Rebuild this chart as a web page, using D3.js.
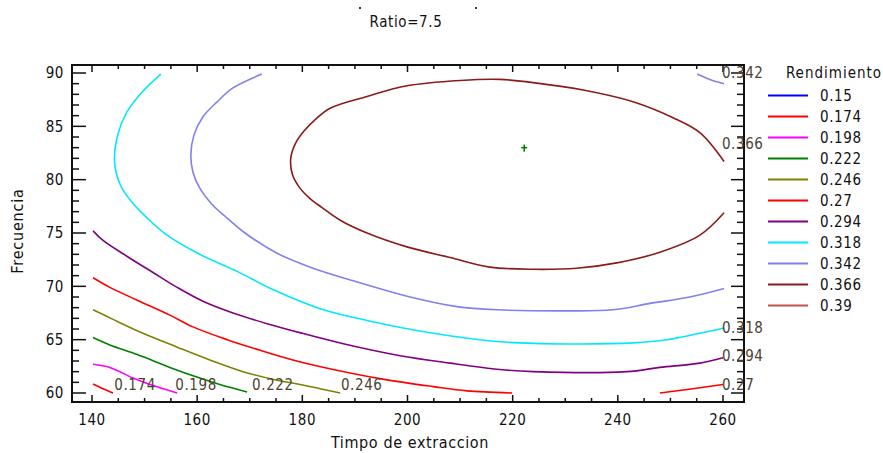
<!DOCTYPE html>
<html><head><meta charset="utf-8">
<script src="https://cdn.jsdelivr.net/npm/d3@7"></script>
<style>
body{margin:0;background:#fff}
svg{display:block}
text{font-family:'Liberation Sans Narrow','Arial Narrow','DejaVu Sans Condensed',sans-serif;fill:#111}
</style>
</head><body>
<svg id="c" width="883" height="453"></svg>
<script>
// ---------- data ----------
const title = "Ratio=7.5";
const xLabel = "Timpo de extraccion";
const yLabel = "Frecuencia";
const legendTitle = "Rendimiento";
const levels = ["0.15","0.174","0.198","0.222","0.246","0.27","0.294","0.318","0.342","0.366","0.39"];
const levelColors = ["#0000ff","#ff0000","#ff00ff","#008000","#808000","#ff0000","#800080","#00e8ff","#8080f0","#8b1a1a","#c05050"];
const xTicks = [140,160,180,200,220,240,260];
const yTicks = [60,65,70,75,80,85,90];

const c0174 = [[140.2,60.85],[142.1,60.4],[144.0,60.0]];
const c0198 = [[140.2,62.7],[143.4,62.4],[147.8,61.4],[151.0,60.8],[152.9,60.5],[156.2,60.0]];
const c0222 = [[140.2,65.2],[143.4,64.5],[148.6,63.6],[154.8,62.4],[160.5,61.4],[164.3,60.8],[169.5,60.1]];
const c0246 = [[140.2,67.8],[144.0,66.9],[149.7,65.6],[156.2,64.3],[162.4,63.1],[168.7,62.0],[175.2,61.2],[179.6,60.8],[183.4,60.4],[187.2,60.0]];
const c0270a = [[140.2,70.8],[143.4,69.9],[148.6,68.7],[154.8,67.3],[159.2,66.2],[165.7,65.0],[172.0,64.0],[178.2,63.1],[185.0,62.3],[195.3,61.3],[204.9,60.6],[211.3,60.2],[219.9,60.0]];
const c0270b = [[248.0,60.0],[254.3,60.4],[260.0,60.8]];
const c0294 = [[140.2,75.2],[142.1,74.3],[146.7,72.8],[151.6,71.3],[156.2,69.9],[161.1,68.6],[166.8,67.5],[173.3,66.5],[180.0,65.6],[188.0,64.6],[198.6,63.5],[208.1,62.8],[217.6,62.2],[223.9,62.0],[241.7,62.0],[248.0,62.4],[255.6,62.8],[260.0,63.3]];
const c0318 = [[153.1,89.9],[149.5,88.2],[146.6,86.3],[144.9,84.2],[144.3,81.6],[145.4,79.5],[147.4,78.0],[150.5,76.4],[154.0,74.9],[160.5,73.0],[167.6,71.4],[174.4,69.7],[183.4,67.9],[192.3,66.8],[204.9,65.6],[217.6,64.8],[230.3,64.6],[242.9,64.7],[249.4,65.0],[255.6,65.6],[260.2,66.1]];
const c0342a = [[172.3,89.9],[166.8,88.6],[163.8,87.3],[161.1,85.9],[159.4,84.2],[158.8,82.3],[159.2,80.7],[160.5,79.2],[162.8,77.7],[165.7,76.4],[169.1,75.0],[175.2,73.1],[181.5,71.8],[189.1,70.6],[200.5,69.0],[209.4,68.1],[217.0,67.8],[230.3,67.7],[239.1,67.8],[246.1,68.4],[253.7,69.0],[260.2,69.8]];
const c0342b = [[255.1,89.9],[257.5,89.4],[260.2,89.0]];
const c0366 = [[260.2,81.7],[255.6,84.4],[250.5,85.8],[242.9,87.3],[233.4,88.4],[223.9,89.1],[217.6,89.4],[210.0,89.3],[199.9,88.8],[192.3,87.8],[185.3,86.7],[182.6,85.7],[180.4,84.6],[178.7,83.4],[177.8,82.0],[178.1,80.5],[179.4,79.3],[181.3,78.3],[183.7,77.4],[187.2,76.2],[192.3,75.0],[199.9,73.7],[208.1,72.7],[215.7,71.8],[223.9,71.6],[232.2,71.7],[239.8,72.2],[248.0,73.2],[255.6,74.8],[260.2,76.9]];

const contourLines = [
  ["0.174", c0174], ["0.198", c0198], ["0.222", c0222], ["0.246", c0246],
  ["0.27", c0270a], ["0.27", c0270b], ["0.294", c0294], ["0.318", c0318],
  ["0.342", c0342a], ["0.342", c0342b], ["0.366", c0366]
];
// labels along the bottom: [text, x, y]
const bottomLabels = [["0.174",148.2,60.75],["0.198",159.8,60.75],["0.222",174.4,60.75],["0.246",191.3,60.75]];
// labels on the right edge: [text, x, y]
const edgeLabels = [["0.342",259.8,90.0],["0.366",259.8,83.4],["0.318",259.8,66.1],["0.294",259.8,63.5],["0.27",259.8,60.8]];
const optimum = [222.2, 83.0];

// ---------- drawing ----------
const svg = d3.select("#c");
const frame = {l:72, t:65, r:744, b:402};
const x = d3.scaleLinear().domain([140,260]).range([92,723]);
const y = d3.scaleLinear().domain([60,90]).range([393,73]);
const colorOf = d3.scaleOrdinal().domain(levels).range(levelColors);

// title
svg.append("text").attr("x",406).attr("y",27).attr("text-anchor","middle")
  .style("font-size","15px").style("letter-spacing","0.6px").text(title);
svg.append("rect").attr("x",359).attr("y",7).attr("width",2).attr("height",2).attr("fill","#335");
svg.append("rect").attr("x",475).attr("y",7).attr("width",2).attr("height",2).attr("fill","#335");

// contour lines
const line = d3.line().x(d=>x(d[0])).y(d=>y(d[1])).curve(d3.curveCatmullRom.alpha(0.5));
svg.append("g").selectAll("path").data(contourLines).join("path")
  .attr("d", d=>line(d[1]))
  .attr("fill","none")
  .attr("stroke", d=>colorOf(d[0]))
  .attr("stroke-width",1.6);

// optimum marker
const g0 = svg.append("g").attr("stroke","#008000").attr("stroke-width",1.6);
g0.append("line").attr("x1",x(optimum[0])-3).attr("x2",x(optimum[0])+3).attr("y1",y(optimum[1])).attr("y2",y(optimum[1]));
g0.append("line").attr("x1",x(optimum[0])).attr("x2",x(optimum[0])).attr("y1",y(optimum[1])-3).attr("y2",y(optimum[1])+4);

// frame
svg.append("rect").attr("x",frame.l).attr("y",frame.t).attr("width",frame.r-frame.l).attr("height",frame.b-frame.t)
  .attr("fill","none").attr("stroke","#111").attr("stroke-width",2);

// ticks (inward, all four sides)
const xMinor = d3.range(140,261,5);
const yMinor = d3.range(60,91,1);
const tk = svg.append("g").attr("stroke","#111").attr("stroke-width",1.5);
xMinor.forEach(v=>{
  const major = v%20===0;
  tk.append("line").attr("x1",x(v)).attr("x2",x(v)).attr("y1",frame.b).attr("y2",frame.b-(major?7:4));
  tk.append("line").attr("x1",x(v)).attr("x2",x(v)).attr("y1",frame.t).attr("y2",frame.t+(major?7:4));
});
yMinor.forEach(v=>{
  const major = v%5===0;
  tk.append("line").attr("y1",y(v)).attr("y2",y(v)).attr("x1",frame.l).attr("x2",frame.l+(major?14:7));
  tk.append("line").attr("y1",y(v)).attr("y2",y(v)).attr("x1",frame.r).attr("x2",frame.r-(major?13:7));
});

// tick labels
svg.append("g").selectAll("text").data(xTicks).join("text")
  .attr("x",d=>x(d)).attr("y",425).attr("text-anchor","middle")
  .style("font-size","15px").style("letter-spacing","0.6px").text(d=>d);
svg.append("g").selectAll("text").data(yTicks).join("text")
  .attr("x",64).attr("y",d=>y(d)).attr("dy","0.35em").attr("text-anchor","end")
  .style("font-size","15px").style("letter-spacing","0.6px").text(d=>d);

// axis titles
svg.append("text").attr("x",410).attr("y",448).attr("text-anchor","middle")
  .style("font-size","16px").style("letter-spacing","0.6px").text(xLabel);
svg.append("text").attr("transform","translate(23,231) rotate(-90)").attr("text-anchor","middle")
  .style("font-size","16px").style("letter-spacing","0.8px").text(yLabel);

// contour labels
svg.append("g").selectAll("text").data(bottomLabels).join("text")
  .attr("x",d=>x(d[1])).attr("y",d=>y(d[2])).attr("dy","0.35em").attr("text-anchor","middle")
  .style("font-size","15px").style("letter-spacing","0.6px").style("fill","#4a4232").text(d=>d[0]);
svg.append("g").selectAll("text").data(edgeLabels).join("text")
  .attr("x",d=>x(d[1])).attr("y",d=>y(d[2])).attr("dy","0.35em").attr("text-anchor","start")
  .style("font-size","15px").style("letter-spacing","0.6px").style("fill","#4a4232").text(d=>d[0]);

// legend
svg.append("text").attr("x",834).attr("y",78).attr("text-anchor","middle")
  .style("font-size","15px").style("letter-spacing","1px").text(legendTitle);
const lg = svg.append("g").selectAll("g").data(levels).join("g")
  .attr("transform",(d,i)=>`translate(0,${95.5+i*21})`);
lg.append("line").attr("x1",768).attr("x2",808).attr("y1",0).attr("y2",0)
  .attr("stroke",d=>colorOf(d)).attr("stroke-width",2);
lg.append("text").attr("x",820).attr("y",0).attr("dy","0.35em")
  .style("font-size","15px").style("letter-spacing","0.6px").text(d=>d);
</script>
</body></html>
